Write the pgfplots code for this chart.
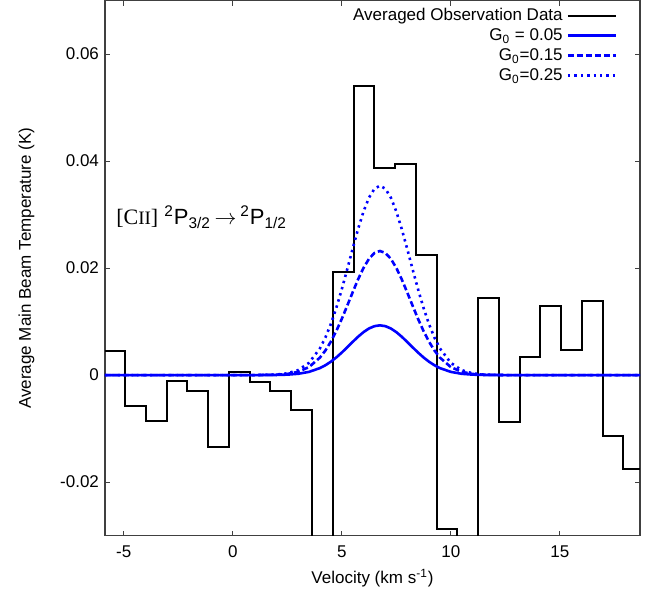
\documentclass[border=0pt]{standalone}
\usepackage{fontspec}
\setmainfont{Liberation Sans}
\newfontfamily\serifx{Liberation Serif}
\usepackage{pgfplots}
\pgfplotsset{compat=1.18}
\usetikzlibrary{calc}
\definecolor{pblue}{RGB}{0,0,255}
\pgfplotstableread{
x g1 g2 g3
-5.86 0 0 0
1.0 0.000002 0.000005 0.000007
2.0 0.000027 0.000068 0.000103
2.5 0.000087 0.000216 0.000330
3.0 0.000245 0.000610 0.000931
3.5 0.000605 0.001508 0.002301
4.0 0.001314 0.003278 0.005002
4.25 0.001845 0.004603 0.007023
4.5 0.002509 0.006259 0.009551
4.75 0.003303 0.008241 0.012574
5.0 0.004210 0.010503 0.016026
5.25 0.005195 0.012960 0.019774
5.5 0.006207 0.015484 0.023626
5.75 0.007180 0.017910 0.027329
6.0 0.008040 0.020056 0.030603
6.25 0.008717 0.021745 0.033180
6.5 0.009151 0.022829 0.034834
6.75 0.009300 0.023200 0.035400
7.0 0.009151 0.022829 0.034834
7.25 0.008717 0.021745 0.033180
7.5 0.008040 0.020056 0.030603
7.75 0.007180 0.017910 0.027329
8.0 0.006207 0.015484 0.023626
8.25 0.005195 0.012960 0.019774
8.5 0.004210 0.010503 0.016026
8.75 0.003303 0.008241 0.012574
9.0 0.002509 0.006259 0.009551
9.25 0.001845 0.004603 0.007023
9.5 0.001314 0.003278 0.005002
10.0 0.000605 0.001508 0.002301
10.5 0.000245 0.000610 0.000931
11.0 0.000087 0.000216 0.000330
11.5 0.000027 0.000068 0.000103
12.5 0.000002 0.000005 0.000007
18.68 0 0 0
}\models
\begin{document}
\fontsize{8.5}{10}\selectfont
\begin{tikzpicture}
\begin{axis}[name=ax, width=267.5pt, height=267.5pt, scale only axis,
 xmin=-5.86, xmax=18.68, ymin=-0.03, ymax=0.07,
 scaled y ticks=false, scaled x ticks=false,
 xtick={-5,0,5,10,15}, xticklabels={-5,0,5,10,15},
 ytick={-0.02,0,0.02,0.04,0.06}, yticklabels={-0.02,0,0.02,0.04,0.06},
 tick align=inside, major tick length=2.5pt,
 tick style={black!75, line width=0.5pt},
 axis line style={black!75, line width=0.6pt},
 xlabel={Velocity (km s\textsuperscript{-1})},
 ylabel={Average Main Beam Temperature (K)},
 ticklabel style={font=\fontsize{8.5}{10}\selectfont},
 label style={font=\fontsize{8.5}{10}\selectfont},
 xticklabel style={yshift=-2pt},
 xlabel style={yshift=0pt},
 ylabel style={yshift=7pt},
 legend style={draw=none, fill=none, at={(rel axis cs:0.962,0.998)}, anchor=north east,
   font=\fontsize{8.5}{9}\selectfont, row sep=-1.2pt, inner sep=1pt},
 legend cell align=right, legend plot pos=right,
 legend image code/.code={\draw[#1] (0pt,0pt) -- (24pt,0pt);},
]
\addplot[const plot, black, line width=1pt] coordinates {
(-5.86,0.0045) (-4.94,-0.0057) (-3.99,-0.0085) (-3.03,-0.0011) (-2.08,-0.0029)
(-1.13,-0.0134) (-0.18,0.0005) (0.775,-0.0013) (1.73,-0.0029) (2.68,-0.0066)
(3.63,-0.045) (4.585,0.0192) (5.54,0.0540) (6.49,0.0388) (7.44,0.0394)
(8.395,0.0224) (9.35,-0.0287) (10.30,-0.045) (11.25,0.0145) (12.205,-0.0087)
(13.16,0.0034) (14.11,0.0129) (15.06,0.0046) (16.015,0.0138) (16.97,-0.0114)
(17.92,-0.0176) (18.68,-0.0176)};
\addlegendentry{Averaged Observation Data}
\addplot[pblue, line width=1.3pt] table[x=x, y=g1] {\models};
\addlegendentry{G\textsubscript{0} = 0.05}
\addplot[pblue, line width=1.3pt, dash pattern=on 3pt off 1.5pt] table[x=x, y=g2] {\models};
\addlegendentry{G\textsubscript{0}=0.15}
\addplot[pblue, line width=1.3pt, dash pattern=on 1.2pt off 2pt] table[x=x, y=g3] {\models};
\addlegendentry{G\textsubscript{0}=0.25}
\node[anchor=west, font=\fontsize{11}{13}\selectfont] at (axis cs:-5.62,0.0295)
 {{\serifx [C{\fontsize{9.5}{11}\selectfont II}]} \textsuperscript{2}P\textsubscript{3/2}\,$\rightarrow$\,\textsuperscript{2}P\textsubscript{1/2}};
\end{axis}
\path ($(ax.south west)+(-52.5pt,-30pt)$) rectangle ($(ax.north east)+(11pt,0pt)$);
\end{tikzpicture}
\end{document}
